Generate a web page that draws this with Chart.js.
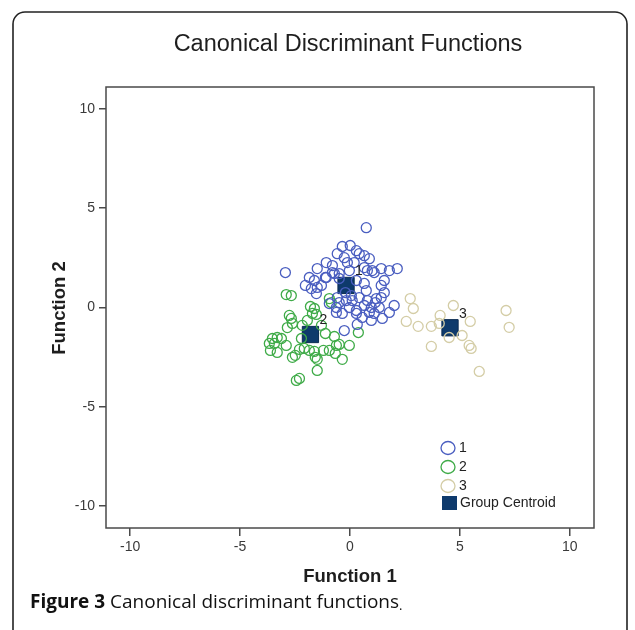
<!DOCTYPE html>
<html>
<head>
<meta charset="utf-8">
<script src="https://cdn.jsdelivr.net/npm/chart.js@4/dist/chart.umd.min.js"></script>
<style>
  html, body { margin: 0; padding: 0; background: #ffffff; }
  #wrap { width: 635px; height: 630px; }
</style>
</head>
<body>
<div id="wrap"><canvas id="c" width="635" height="630"></canvas></div>
<script>
// ---------- data ----------
const chartTitle = "Canonical Discriminant Functions";
const xTitle = "Function 1";
const yTitle = "Function 2";
const xRange = [-11.1, 11.1];
const yRange = [-11.1, 11.1];
const xTicks = [-10, -5, 0, 5, 10];
const yTicks = [-10, -5, 0, 5, 10];
const groupNames = ["1", "2", "3", "Group Centroid"];

const group1 = [
  [0.74,4.02],[-2.94,1.76],[-0.35,3.07],[0.01,3.12],[0.29,2.86],[-0.58,2.71],[-0.26,2.51],
  [0.42,2.71],[0.65,2.61],[0.88,2.46],[-1.08,2.26],[-0.80,2.11],[-1.49,1.96],[-0.80,1.76],
  [-0.49,1.71],[-0.03,1.86],[0.65,2.01],[1.01,1.86],[1.42,1.96],[1.79,1.86],[-1.62,1.36],
  [-1.49,1.01],[0.29,1.36],[0.65,1.21],[0.74,0.85],[-1.76,0.95],[-1.53,0.70],[-1.30,1.11],
  [-1.08,1.51],[-0.58,0.50],[-0.17,0.35],[0.10,0.35],[0.42,0.50],[0.79,0.35],[1.20,0.45],
  [-0.94,0.20],[-0.62,0.00],[-0.49,0.25],[-0.03,0.00],[0.29,-0.15],[0.65,0.10],[0.97,0.00],
  [1.15,0.25],[1.42,0.50],[1.56,0.75],[1.56,1.36],[1.42,1.11],[-0.35,-0.30],[-0.62,-0.25],
  [0.56,-0.50],[0.88,-0.25],[1.10,-0.30],[1.33,0.00],[0.29,-0.30],[0.97,-0.65],[1.47,-0.55],
  [1.79,-0.25],[2.01,0.10],[-0.26,-1.16],[0.33,-0.85],[-0.21,0.75],[0.06,0.60],[-0.71,1.71],
  [0.79,1.86],[1.10,1.76],[2.15,1.96],[-0.49,1.46],[-1.12,1.51],[0.19,2.26],[-0.12,2.26],
  [-2.03,1.11],[-1.85,1.51]
];
const group2 = [
  [-2.90,0.65],[-2.67,0.60],[-1.80,0.05],[-1.62,-0.05],[-0.94,0.45],[-0.85,0.25],[-1.71,-0.30],
  [-1.53,-0.35],[-2.76,-0.40],[-2.67,-0.55],[-2.62,-0.80],[-2.85,-1.01],[-3.53,-1.56],[-3.31,-1.51],
  [-3.12,-1.56],[-3.67,-1.81],[-3.44,-1.81],[-3.62,-2.16],[-3.31,-2.26],[-2.90,-1.91],[-2.62,-2.51],
  [-2.49,-2.41],[-2.30,-2.11],[-2.08,-2.06],[-1.85,-2.16],[-1.62,-2.21],[-1.58,-2.51],[-1.49,-2.61],
  [-1.21,-2.16],[-0.94,-2.16],[-0.62,-1.91],[-0.71,-1.46],[-0.49,-1.86],[-0.03,-1.91],[0.38,-1.26],
  [-0.35,-2.61],[-1.49,-3.17],[-2.30,-3.57],[-2.44,-3.67],[-0.67,-2.31],[-2.17,-0.90],[-1.94,-0.65],
  [-1.30,-0.90],[-1.12,-1.31],[-2.21,-1.56]
];
const group3 = [
  [2.74,0.45],[2.88,-0.05],[2.56,-0.70],[3.10,-0.95],[3.70,-0.95],[4.10,-0.40],[4.06,-0.80],
  [4.70,0.10],[4.51,-1.51],[5.10,-1.41],[5.47,-0.70],[5.42,-1.91],[5.51,-2.06],[3.70,-1.96],
  [5.88,-3.22],[7.10,-0.15],[7.24,-1.00]
];
const centroids = [[-0.18,1.11],[-1.80,-1.36],[4.55,-1.02]];
const centroidLabels = ["1", "2", "3"];

const groupColors = ["#4a5ec0", "#3fab48", "#d4cda6"];
const centroidColor = "#0e3a6c";

// ---------- chart ----------
const toPts = arr => arr.map(p => ({ x: p[0], y: p[1] }));
const FONT = "'Liberation Sans', Arial, sans-serif";
const CAPFONT = "'Open Sans', 'Noto Sans', sans-serif";

const decorations = {
  id: 'decorations',
  beforeDraw(chart) {
    const ctx = chart.ctx;
    ctx.save();
    ctx.fillStyle = '#ffffff';
    ctx.fillRect(0, 0, chart.width, chart.height);
    // outer rounded frame (open at the bottom)
    ctx.strokeStyle = '#222222';
    ctx.lineWidth = 1.6;
    const L = 13, R = 627, T = 12, rad = 12;
    ctx.beginPath();
    ctx.moveTo(L, 640);
    ctx.lineTo(L, T + rad);
    ctx.arcTo(L, T, L + rad, T, rad);
    ctx.lineTo(R - rad, T);
    ctx.arcTo(R, T, R, T + rad, rad);
    ctx.lineTo(R, 640);
    ctx.stroke();
    // title
    ctx.fillStyle = '#1e1e1e';
    ctx.font = "23.5px " + FONT;
    ctx.textAlign = 'center';
    ctx.textBaseline = 'middle';
    ctx.fillText(chartTitle, 348, 45);
    // axis titles
    ctx.font = "bold 18.5px " + FONT;
    ctx.fillText(xTitle, 350, 577);
    ctx.save();
    ctx.translate(60, 308);
    ctx.rotate(-Math.PI / 2);
    ctx.fillText(yTitle, 0, 0);
    ctx.restore();
    // caption
    ctx.textAlign = 'left';
    ctx.fillStyle = '#111111';
    let x = 30;
    ctx.font = "bold 19px " + CAPFONT;
    ctx.fillText("Figure 3", x, 603);
    x += ctx.measureText("Figure 3 ").width;
    ctx.font = "19px " + CAPFONT;
    ctx.fillText("Canonical discriminant functions", x, 603);
    x += ctx.measureText("Canonical discriminant functions").width;
    ctx.font = "13px " + CAPFONT;
    ctx.fillText(".", x, 606);
    ctx.restore();
  },
  afterDraw(chart) {
    const ctx = chart.ctx;
    const a = chart.chartArea;
    ctx.save();
    // plot frame
    ctx.strokeStyle = '#4a4a4a';
    ctx.lineWidth = 1.5;
    ctx.strokeRect(a.left, a.top, a.right - a.left, a.bottom - a.top);
    // centroid labels
    const xs = chart.scales.x, ys = chart.scales.y;
    ctx.fillStyle = '#222222';
    ctx.font = "14px " + FONT;
    ctx.textAlign = 'left';
    ctx.textBaseline = 'middle';
    centroids.forEach((c, i) => {
      ctx.fillText(centroidLabels[i], xs.getPixelForValue(c[0]) + 9, ys.getPixelForValue(c[1]) - 14);
    });
    // legend inside the plot
    const lx = 448, ly = [448, 467, 486, 503];
    ctx.font = "14px " + FONT;
    for (let i = 0; i < 3; i++) {
      ctx.beginPath();
      ctx.ellipse(lx, ly[i], 7, 6.5, 0, 0, Math.PI * 2);
      ctx.strokeStyle = groupColors[i];
      ctx.lineWidth = 1.3;
      ctx.stroke();
      ctx.fillStyle = '#222222';
      ctx.fillText(groupNames[i], lx + 11, ly[i]);
    }
    ctx.fillStyle = centroidColor;
    ctx.fillRect(lx - 6, ly[3] - 7, 15, 14);
    ctx.fillStyle = '#222222';
    ctx.fillText(groupNames[3], lx + 12, ly[3]);
    ctx.restore();
  }
};

const circleDs = (label, arr, color) => ({
  label, data: toPts(arr), pointStyle: 'circle', pointRadius: 5, pointHoverRadius: 5,
  borderColor: color, backgroundColor: 'rgba(0,0,0,0)', pointBorderWidth: 1.3, showLine: false
});

new Chart(document.getElementById('c'), {
  type: 'scatter',
  data: {
    datasets: [
      circleDs(groupNames[0], group1, groupColors[0]),
      circleDs(groupNames[1], group2, groupColors[1]),
      circleDs(groupNames[2], group3, groupColors[2]),
      {
        label: groupNames[3], data: toPts(centroids), pointStyle: 'rect', pointRadius: 11.5,
        pointHoverRadius: 11.5, backgroundColor: centroidColor, borderColor: '#0a2b52',
        pointBorderWidth: 1, showLine: false
      }
    ]
  },
  options: {
    responsive: false,
    animation: false,
    events: [],
    layout: { padding: { left: 0, top: 87, right: 41, bottom: 72 } },
    plugins: { legend: { display: false }, title: { display: false }, tooltip: { enabled: false } },
    scales: {
      x: {
        type: 'linear', min: xRange[0], max: xRange[1],
        afterBuildTicks: s => { s.ticks = xTicks.map(v => ({ value: v })); },
        afterFit: s => { s.height = 30; },
        grid: { display: true, drawOnChartArea: false, drawTicks: true, tickLength: 8, color: '#4a4a4a', lineWidth: 1.5 },
        border: { display: false },
        ticks: { color: '#3a3a3a', font: { family: FONT, size: 14 }, padding: 3, maxRotation: 0 }
      },
      y: {
        type: 'linear', min: yRange[0], max: yRange[1],
        afterBuildTicks: s => { s.ticks = yTicks.map(v => ({ value: v })); },
        afterFit: s => { s.width = 106; },
        grid: { display: true, drawOnChartArea: false, drawTicks: true, tickLength: 7, color: '#4a4a4a', lineWidth: 1.5 },
        border: { display: false },
        ticks: { color: '#3a3a3a', font: { family: FONT, size: 14 }, padding: 4 }
      }
    }
  },
  plugins: [decorations]
});
</script>
</body>
</html>
